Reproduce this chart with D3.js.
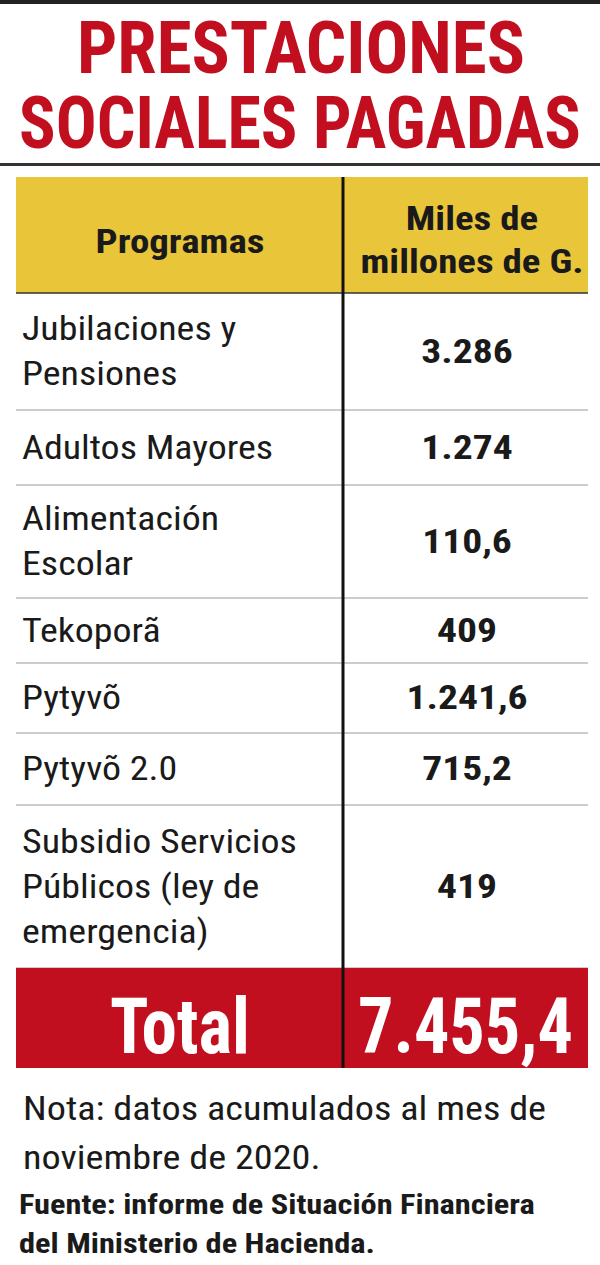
<!DOCTYPE html>
<html><head><meta charset="utf-8">
<script src="https://cdn.jsdelivr.net/npm/d3@7"></script>
<style>body{margin:0;background:#fff}svg{display:block}</style></head>
<body><svg id="c" width="600" height="1265"></svg>
<script>
const titleLines = ["PRESTACIONES", "SOCIALES PAGADAS"];
const headers = ["Programas", ["Miles de", "millones de G."]];
const programs = [["Jubilaciones y", "Pensiones"], ["Adultos Mayores"], ["Alimentación", "Escolar"], ["Tekoporã"], ["Pytyvõ"], ["Pytyvõ 2.0"], ["Subsidio Servicios", "Públicos (ley de", "emergencia)"]];
const values = ["3.286", "1.274", "110,6", "409", "1.241,6", "715,2", "419"];
const totalLabel = "Total", totalValue = "7.455,4";
const note = ["Nota: datos acumulados al mes de", "noviembre de 2020."];
const source = ["Fuente: informe de Situación Financiera", "del Ministerio de Hacienda."];
const rowBounds = [293, 410, 485, 598, 663, 733, 805, 968];

const F = "'Liberation Sans Narrow','Roboto Condensed','Arial Narrow',Roboto,sans-serif";
const svg = d3.select("#c");
const RED = "#c20f1f", YEL = "#e9c53a";
const L = 16, R = 588, MID = 343;

function txt(t, x, y, size, sx, bold, anchor, fill){
  return svg.append("text").text(t).attr("x",0).attr("y",0)
    .attr("transform",`translate(${x},${y}) scale(${sx},1)`)
    .attr("text-anchor",anchor||"start").attr("font-family",F)
    .attr("font-weight",bold?"bold":"normal").attr("font-size",size).attr("fill",fill||"#1a1a1a");
}

svg.append("rect").attr("x",0).attr("y",0).attr("width",600).attr("height",4).attr("fill","#222");
const tl = [[77,73,448],[19,148,562]];
titleLines.forEach((t,i)=>svg.append("text").text(t).attr("x",tl[i][0]).attr("y",tl[i][1])
  .attr("textLength",tl[i][2]).attr("lengthAdjust","spacingAndGlyphs")
  .attr("font-family",F).attr("font-weight","bold").attr("font-size",72).attr("fill",RED));
svg.append("rect").attr("x",0).attr("y",163).attr("width",600).attr("height",3).attr("fill","#333");

// header
svg.append("rect").attr("x",L).attr("y",177).attr("width",R-L).attr("height",116).attr("fill",YEL);
txt(headers[0],180,253,33,1.18,true,"middle");
headers[1].forEach((t,i)=>txt(t,472,230+i*43,33,1.18,true,"middle"));

programs.forEach((p,i)=>{
  const top = rowBounds[i], bot = rowBounds[i+1], mid=(top+bot)/2;
  svg.append("line").attr("x1",L).attr("x2",R).attr("y1",bot).attr("y2",bot).attr("stroke","#9a9a9a").attr("stroke-width",1.2);
  const n=p.length, lh=45, start=mid-(n-1)*lh/2+11;
  p.forEach((t,j)=>txt(t,22,start+j*lh,33,1.15,false));
  txt(values[i],467,mid+11,33,1.2,true,"middle");
});
svg.append("line").attr("x1",L).attr("x2",R).attr("y1",293).attr("y2",293).attr("stroke","#333").attr("stroke-width",1.5);

// total
svg.append("rect").attr("x",L).attr("y",968).attr("width",R-L).attr("height",100).attr("fill",RED);
svg.append("text").text(totalLabel).attr("x",110).attr("y",1053).attr("textLength",140).attr("lengthAdjust","spacingAndGlyphs")
  .attr("font-family",F).attr("font-weight","bold").attr("font-size",78).attr("fill","#fff");
svg.append("text").text(totalValue).attr("x",358).attr("y",1053).attr("textLength",215).attr("lengthAdjust","spacingAndGlyphs")
  .attr("font-family",F).attr("font-weight","bold").attr("font-size",78).attr("fill","#fff");
svg.append("line").attr("x1",MID).attr("x2",MID).attr("y1",177).attr("y2",1068).attr("stroke","#111").attr("stroke-width",3);

note.forEach((t,i)=>txt(t,23,1120+i*49,33,1.16,false));
source.forEach((t,i)=>txt(t,19,1214+i*39,27,1.2,true));
</script></body></html>
